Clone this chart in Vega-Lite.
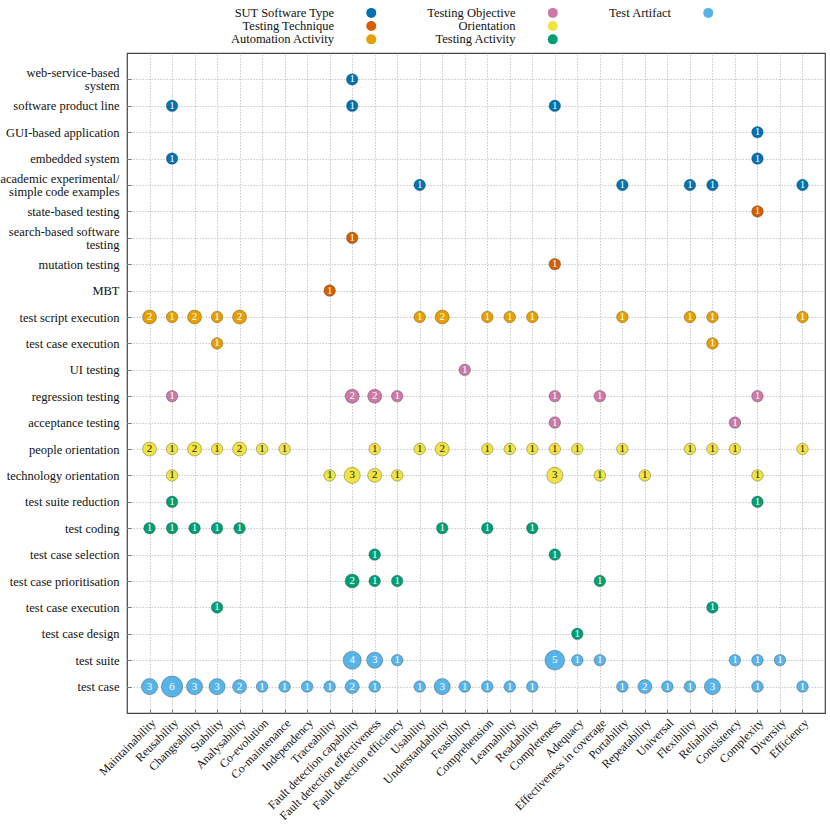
{
  "$schema": "https://vega.github.io/schema/vega-lite/v6.json",
  "width": 698,
  "height": 660,
  "autosize": {"type": "none"},
  "padding": {"left": 127, "top": 53, "right": 5, "bottom": 117},
  "background": "white",
  "config": {
    "font": "Liberation Serif",
    "view": {"stroke": "#444", "strokeWidth": 1.2},
    "axis": {
      "title": null,
      "labelFont": "Liberation Serif",
      "labelFontSize": 12.5,
      "labelColor": "#111",
      "gridColor": "#bbb",
      "gridDash": [1.5, 1.5],
      "gridWidth": 0.8,
      "domain": false,
      "tickColor": "#777",
      "tickSize": -4,
      "labelPadding": 12
    },
    "legend": {
      "orient": "none",
      "legendX": 238,
      "legendY": -46.5,
      "columns": 3,
      "title": null,
      "labelFont": "Liberation Serif",
      "labelFontSize": 12.5,
      "labelColor": "#111",
      "labelAlign": "right",
      "labelOffset": -43.5,
      "symbolSize": 100,
      "symbolType": "circle",
      "symbolStrokeWidth": 0,
      "rowPadding": 0.3,
      "columnPadding": 49.5
    }
  },
  "data": {
    "values": [
      {"r": "web-service-based|system", "c": "Fault detection capability", "n": 1, "g": "SUT Software Type"},
      {"r": "software product line", "c": "Reusability", "n": 1, "g": "SUT Software Type"},
      {"r": "software product line", "c": "Fault detection capability", "n": 1, "g": "SUT Software Type"},
      {"r": "software product line", "c": "Completeness", "n": 1, "g": "SUT Software Type"},
      {"r": "GUI-based application", "c": "Complexity", "n": 1, "g": "SUT Software Type"},
      {"r": "embedded system", "c": "Reusability", "n": 1, "g": "SUT Software Type"},
      {"r": "embedded system", "c": "Complexity", "n": 1, "g": "SUT Software Type"},
      {"r": "academic experimental/|simple code examples", "c": "Usability", "n": 1, "g": "SUT Software Type"},
      {"r": "academic experimental/|simple code examples", "c": "Portability", "n": 1, "g": "SUT Software Type"},
      {"r": "academic experimental/|simple code examples", "c": "Flexibility", "n": 1, "g": "SUT Software Type"},
      {"r": "academic experimental/|simple code examples", "c": "Reliability", "n": 1, "g": "SUT Software Type"},
      {"r": "academic experimental/|simple code examples", "c": "Efficiency", "n": 1, "g": "SUT Software Type"},
      {"r": "state-based testing", "c": "Complexity", "n": 1, "g": "Testing Technique"},
      {"r": "search-based software|testing", "c": "Fault detection capability", "n": 1, "g": "Testing Technique"},
      {"r": "mutation testing", "c": "Completeness", "n": 1, "g": "Testing Technique"},
      {"r": "MBT", "c": "Traceability", "n": 1, "g": "Testing Technique"},
      {"r": "test script execution", "c": "Maintainability", "n": 2, "g": "Automation Activity"},
      {"r": "test script execution", "c": "Reusability", "n": 1, "g": "Automation Activity"},
      {"r": "test script execution", "c": "Changeability", "n": 2, "g": "Automation Activity"},
      {"r": "test script execution", "c": "Stability", "n": 1, "g": "Automation Activity"},
      {"r": "test script execution", "c": "Analysability", "n": 2, "g": "Automation Activity"},
      {"r": "test script execution", "c": "Usability", "n": 1, "g": "Automation Activity"},
      {"r": "test script execution", "c": "Understandability", "n": 2, "g": "Automation Activity"},
      {"r": "test script execution", "c": "Comprehension", "n": 1, "g": "Automation Activity"},
      {"r": "test script execution", "c": "Learnability", "n": 1, "g": "Automation Activity"},
      {"r": "test script execution", "c": "Readability", "n": 1, "g": "Automation Activity"},
      {"r": "test script execution", "c": "Portability", "n": 1, "g": "Automation Activity"},
      {"r": "test script execution", "c": "Flexibility", "n": 1, "g": "Automation Activity"},
      {"r": "test script execution", "c": "Reliability", "n": 1, "g": "Automation Activity"},
      {"r": "test script execution", "c": "Efficiency", "n": 1, "g": "Automation Activity"},
      {"r": "test case execution", "c": "Stability", "n": 1, "g": "Automation Activity"},
      {"r": "test case execution", "c": "Reliability", "n": 1, "g": "Automation Activity"},
      {"r": "UI testing", "c": "Feasibility", "n": 1, "g": "Testing Objective"},
      {"r": "regression testing", "c": "Reusability", "n": 1, "g": "Testing Objective"},
      {"r": "regression testing", "c": "Fault detection capability", "n": 2, "g": "Testing Objective"},
      {"r": "regression testing", "c": "Fault detection effectiveness", "n": 2, "g": "Testing Objective"},
      {"r": "regression testing", "c": "Fault detection efficiency", "n": 1, "g": "Testing Objective"},
      {"r": "regression testing", "c": "Completeness", "n": 1, "g": "Testing Objective"},
      {"r": "regression testing", "c": "Effectiveness in coverage", "n": 1, "g": "Testing Objective"},
      {"r": "regression testing", "c": "Complexity", "n": 1, "g": "Testing Objective"},
      {"r": "acceptance testing", "c": "Completeness", "n": 1, "g": "Testing Objective"},
      {"r": "acceptance testing", "c": "Consistency", "n": 1, "g": "Testing Objective"},
      {"r": "people orientation", "c": "Maintainability", "n": 2, "g": "Orientation"},
      {"r": "people orientation", "c": "Reusability", "n": 1, "g": "Orientation"},
      {"r": "people orientation", "c": "Changeability", "n": 2, "g": "Orientation"},
      {"r": "people orientation", "c": "Stability", "n": 1, "g": "Orientation"},
      {"r": "people orientation", "c": "Analysability", "n": 2, "g": "Orientation"},
      {"r": "people orientation", "c": "Co-evolution", "n": 1, "g": "Orientation"},
      {"r": "people orientation", "c": "Co-maintenance", "n": 1, "g": "Orientation"},
      {"r": "people orientation", "c": "Fault detection effectiveness", "n": 1, "g": "Orientation"},
      {"r": "people orientation", "c": "Usability", "n": 1, "g": "Orientation"},
      {"r": "people orientation", "c": "Understandability", "n": 2, "g": "Orientation"},
      {"r": "people orientation", "c": "Comprehension", "n": 1, "g": "Orientation"},
      {"r": "people orientation", "c": "Learnability", "n": 1, "g": "Orientation"},
      {"r": "people orientation", "c": "Readability", "n": 1, "g": "Orientation"},
      {"r": "people orientation", "c": "Completeness", "n": 1, "g": "Orientation"},
      {"r": "people orientation", "c": "Adequacy", "n": 1, "g": "Orientation"},
      {"r": "people orientation", "c": "Portability", "n": 1, "g": "Orientation"},
      {"r": "people orientation", "c": "Flexibility", "n": 1, "g": "Orientation"},
      {"r": "people orientation", "c": "Reliability", "n": 1, "g": "Orientation"},
      {"r": "people orientation", "c": "Consistency", "n": 1, "g": "Orientation"},
      {"r": "people orientation", "c": "Efficiency", "n": 1, "g": "Orientation"},
      {"r": "technology orientation", "c": "Reusability", "n": 1, "g": "Orientation"},
      {"r": "technology orientation", "c": "Traceability", "n": 1, "g": "Orientation"},
      {"r": "technology orientation", "c": "Fault detection capability", "n": 3, "g": "Orientation"},
      {"r": "technology orientation", "c": "Fault detection effectiveness", "n": 2, "g": "Orientation"},
      {"r": "technology orientation", "c": "Fault detection efficiency", "n": 1, "g": "Orientation"},
      {"r": "technology orientation", "c": "Completeness", "n": 3, "g": "Orientation"},
      {"r": "technology orientation", "c": "Effectiveness in coverage", "n": 1, "g": "Orientation"},
      {"r": "technology orientation", "c": "Repeatability", "n": 1, "g": "Orientation"},
      {"r": "technology orientation", "c": "Complexity", "n": 1, "g": "Orientation"},
      {"r": "test suite reduction", "c": "Reusability", "n": 1, "g": "Testing Activity"},
      {"r": "test suite reduction", "c": "Complexity", "n": 1, "g": "Testing Activity"},
      {"r": "test coding", "c": "Maintainability", "n": 1, "g": "Testing Activity"},
      {"r": "test coding", "c": "Reusability", "n": 1, "g": "Testing Activity"},
      {"r": "test coding", "c": "Changeability", "n": 1, "g": "Testing Activity"},
      {"r": "test coding", "c": "Stability", "n": 1, "g": "Testing Activity"},
      {"r": "test coding", "c": "Analysability", "n": 1, "g": "Testing Activity"},
      {"r": "test coding", "c": "Understandability", "n": 1, "g": "Testing Activity"},
      {"r": "test coding", "c": "Comprehension", "n": 1, "g": "Testing Activity"},
      {"r": "test coding", "c": "Readability", "n": 1, "g": "Testing Activity"},
      {"r": "test case selection", "c": "Fault detection effectiveness", "n": 1, "g": "Testing Activity"},
      {"r": "test case selection", "c": "Completeness", "n": 1, "g": "Testing Activity"},
      {"r": "test case prioritisation", "c": "Fault detection capability", "n": 2, "g": "Testing Activity"},
      {"r": "test case prioritisation", "c": "Fault detection effectiveness", "n": 1, "g": "Testing Activity"},
      {"r": "test case prioritisation", "c": "Fault detection efficiency", "n": 1, "g": "Testing Activity"},
      {"r": "test case prioritisation", "c": "Effectiveness in coverage", "n": 1, "g": "Testing Activity"},
      {"r": "test case execution (TA)", "c": "Stability", "n": 1, "g": "Testing Activity"},
      {"r": "test case execution (TA)", "c": "Reliability", "n": 1, "g": "Testing Activity"},
      {"r": "test case design", "c": "Adequacy", "n": 1, "g": "Testing Activity"},
      {"r": "test suite", "c": "Fault detection capability", "n": 4, "g": "Test Artifact"},
      {"r": "test suite", "c": "Fault detection effectiveness", "n": 3, "g": "Test Artifact"},
      {"r": "test suite", "c": "Fault detection efficiency", "n": 1, "g": "Test Artifact"},
      {"r": "test suite", "c": "Completeness", "n": 5, "g": "Test Artifact"},
      {"r": "test suite", "c": "Adequacy", "n": 1, "g": "Test Artifact"},
      {"r": "test suite", "c": "Effectiveness in coverage", "n": 1, "g": "Test Artifact"},
      {"r": "test suite", "c": "Consistency", "n": 1, "g": "Test Artifact"},
      {"r": "test suite", "c": "Complexity", "n": 1, "g": "Test Artifact"},
      {"r": "test suite", "c": "Diversity", "n": 1, "g": "Test Artifact"},
      {"r": "test case", "c": "Maintainability", "n": 3, "g": "Test Artifact"},
      {"r": "test case", "c": "Reusability", "n": 6, "g": "Test Artifact"},
      {"r": "test case", "c": "Changeability", "n": 3, "g": "Test Artifact"},
      {"r": "test case", "c": "Stability", "n": 3, "g": "Test Artifact"},
      {"r": "test case", "c": "Analysability", "n": 2, "g": "Test Artifact"},
      {"r": "test case", "c": "Co-evolution", "n": 1, "g": "Test Artifact"},
      {"r": "test case", "c": "Co-maintenance", "n": 1, "g": "Test Artifact"},
      {"r": "test case", "c": "Independency", "n": 1, "g": "Test Artifact"},
      {"r": "test case", "c": "Traceability", "n": 1, "g": "Test Artifact"},
      {"r": "test case", "c": "Fault detection capability", "n": 2, "g": "Test Artifact"},
      {"r": "test case", "c": "Fault detection effectiveness", "n": 1, "g": "Test Artifact"},
      {"r": "test case", "c": "Usability", "n": 1, "g": "Test Artifact"},
      {"r": "test case", "c": "Understandability", "n": 3, "g": "Test Artifact"},
      {"r": "test case", "c": "Feasibility", "n": 1, "g": "Test Artifact"},
      {"r": "test case", "c": "Comprehension", "n": 1, "g": "Test Artifact"},
      {"r": "test case", "c": "Learnability", "n": 1, "g": "Test Artifact"},
      {"r": "test case", "c": "Readability", "n": 1, "g": "Test Artifact"},
      {"r": "test case", "c": "Portability", "n": 1, "g": "Test Artifact"},
      {"r": "test case", "c": "Repeatability", "n": 2, "g": "Test Artifact"},
      {"r": "test case", "c": "Universal", "n": 1, "g": "Test Artifact"},
      {"r": "test case", "c": "Flexibility", "n": 1, "g": "Test Artifact"},
      {"r": "test case", "c": "Reliability", "n": 3, "g": "Test Artifact"},
      {"r": "test case", "c": "Complexity", "n": 1, "g": "Test Artifact"},
      {"r": "test case", "c": "Efficiency", "n": 1, "g": "Test Artifact"}
    ]
  },
  "encoding": {
    "x": {
      "field": "c",
      "type": "nominal",
      "scale": {
        "type": "point",
        "padding": 1,
        "domain": ["Maintainability", "Reusability", "Changeability", "Stability", "Analysability", "Co-evolution", "Co-maintenance", "Independency", "Traceability", "Fault detection capability", "Fault detection effectiveness", "Fault detection efficiency", "Usability", "Understandability", "Feasibility", "Comprehension", "Learnability", "Readability", "Completeness", "Adequacy", "Effectiveness in coverage", "Portability", "Repeatability", "Universal", "Flexibility", "Reliability", "Consistency", "Complexity", "Diversity", "Efficiency"]
      },
      "axis": {"orient": "bottom", "labelAngle": -45, "labelAlign": "right", "labelBaseline": "top", "labelPadding": 8, "labelFontSize": 12, "grid": true}
    },
    "y": {
      "field": "r",
      "type": "nominal",
      "scale": {
        "type": "point",
        "padding": 1,
        "domain": ["web-service-based|system", "software product line", "GUI-based application", "embedded system", "academic experimental/|simple code examples", "state-based testing", "search-based software|testing", "mutation testing", "MBT", "test script execution", "test case execution", "UI testing", "regression testing", "acceptance testing", "people orientation", "technology orientation", "test suite reduction", "test coding", "test case selection", "test case prioritisation", "test case execution (TA)", "test case design", "test suite", "test case"]
      },
      "axis": {
        "orient": "left",
        "grid": true,
        "labelLineHeight": 13,
        "labelExpr": "split(replace(datum.label, ' (TA)', ''), '|')",
        "labelOffset": {"condition": {"test": "indexof(datum.value, '|') >= 0", "value": -6.5}, "value": 0}
      }
    }
  },
  "layer": [
    {
      "mark": {"type": "point", "filled": true, "opacity": 1, "stroke": "#333", "strokeWidth": 0.5, "strokeOpacity": 0.7},
      "encoding": {
        "size": {"field": "n", "type": "quantitative", "scale": {"domain": [1, 6], "range": [133, 452]}, "legend": null},
        "color": {
          "field": "g",
          "type": "nominal",
          "scale": {
            "domain": ["SUT Software Type", "Testing Technique", "Automation Activity", "Testing Objective", "Orientation", "Testing Activity", "Test Artifact", " "],
            "range": ["#0072B2", "#D55E00", "#E69F00", "#CC79A7", "#F0E442", "#009E73", "#56B4E9", "transparent"]
          }
        }
      }
    },
    {
      "mark": {"type": "text", "fontSize": 11, "font": "Liberation Serif"},
      "encoding": {
        "text": {"field": "n", "type": "quantitative"},
        "color": {"condition": {"test": "datum.g === 'Orientation'", "value": "#222"}, "value": "#ffffff"}
      }
    }
  ]
}
